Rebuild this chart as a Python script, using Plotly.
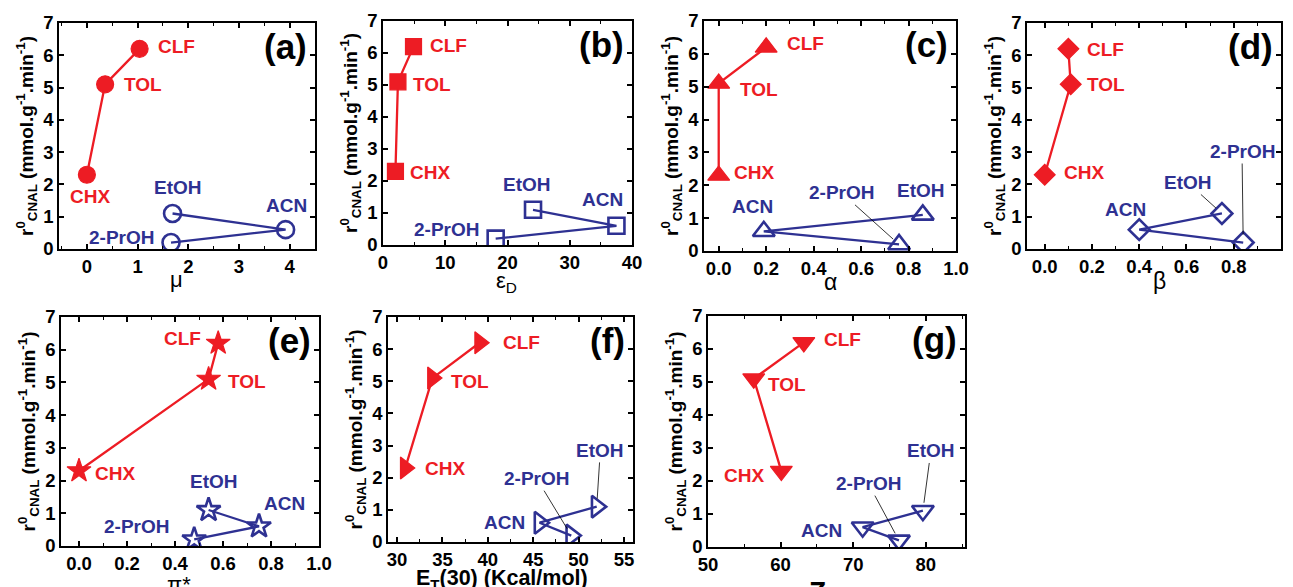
import plotly.graph_objects as go

# ---------------- data ----------------
solvents = ["CHX", "TOL", "CLF", "EtOH", "ACN", "2-PrOH"]
rate = [2.3, 5.1, 6.2, 1.1, 0.6, 0.2]          # r0_CNAL (mmol.g-1.min-1)
mu = [0.0, 0.36, 1.04, 1.69, 3.92, 1.66]
eps_d = [2.0, 2.4, 4.9, 24.1, 37.5, 18.1]
alpha = [0.0, 0.0, 0.2, 0.86, 0.19, 0.76]
beta = [0.0, 0.11, 0.10, 0.75, 0.40, 0.84]
pi_star = [0.0, 0.54, 0.58, 0.54, 0.75, 0.48]
et30 = [30.9, 33.9, 39.1, 52.0, 45.7, 49.2]
z_val = [60.1, 56.3, 63.2, 79.6, 71.3, 76.3]

RED = "#ED1C24"
BLUE = "#2E3192"
FONT = "Liberation Sans, Arial, sans-serif"
W, H = 1293, 587

# panel configuration (layout only); tpos = x-title centre in pixels
panels = [
    dict(tag="(a)", x=mu, title="μ", tbold=False, tsize=22, tpos=(176, 280), rng=[-0.55, 4.5], dtick=1, tick0=0, minor=0.5, fmt="",
         sym="circle", size=17, dom=(59, 315, 23, 249),
         labels={"CLF": (1.77, 6.28, False), "TOL": (1.10, 5.09, False), "CHX": (0.06, 1.63, False),
                 "EtOH": (1.80, 1.89, False), "ACN": (3.93, 1.34, False), "2-PrOH": (0.69, 0.37, False)}),
    dict(tag="(b)", x=eps_d, title="ε<sub>D</sub>", tbold=False, tsize=22, tpos=(506, 282), rng=[0, 40], dtick=10, tick0=0, minor=5, fmt="",
         sym="square", size=16, dom=(383, 632, 21, 245),
         labels={"CLF": (10.5, 6.22, False), "TOL": (7.9, 5.02, False), "CHX": (7.5, 2.27, False),
                 "EtOH": (23.1, 1.9, False), "ACN": (35.3, 1.43, False), "2-PrOH": (10.2, 0.49, False)}),
    dict(tag="(c)", x=alpha, title="α", tbold=False, tsize=23, tpos=(830, 282), rng=[-0.062, 1.0], dtick=0.2, tick0=0, minor=0.1, fmt=".1f",
         sym="triangle-up", size=19, dom=(704, 956, 21, 251),
         labels={"CLF": (0.366, 6.32, False), "TOL": (0.169, 4.92, False), "CHX": (0.149, 2.39, False),
                 "ACN": (0.142, 1.34, False), "2-PrOH": (0.518, 1.77, True), "EtOH": (0.852, 1.85, False)}),
    dict(tag="(d)", x=beta, title="β", tbold=False, tsize=23, tpos=(1159, 281), rng=[-0.075, 1.0], dtick=0.2, tick0=0, minor=0.1, fmt=".1f",
         sym="diamond", size=16, dom=(1027, 1281, 23, 249),
         labels={"CLF": (0.257, 6.19, False), "TOL": (0.26, 5.11, False), "CHX": (0.165, 2.38, False),
                 "ACN": (0.341, 1.22, False), "EtOH": (0.605, 2.06, True), "2-PrOH": (0.835, 3.02, True)}),
    dict(tag="(e)", x=pi_star, title="π*", tbold=False, tsize=22, tpos=(179, 584), rng=[-0.075, 1.0], dtick=0.2, tick0=0, minor=0.1, fmt=".1f",
         sym="star", size=18, dom=(61, 319, 317, 546),
         labels={"CLF": (0.432, 6.34, False), "TOL": (0.699, 5.03, False), "CHX": (0.15, 2.21, False),
                 "EtOH": (0.564, 1.98, False), "ACN": (0.858, 1.29, False), "2-PrOH": (0.24, 0.60, False)}),
    dict(tag="(f)", x=et30, title="E<sub>T</sub>(30) (Kcal/mol)", tbold=True, tsize=21.5, tpos=(502, 579), rng=[29, 56], dtick=5, tick0=30, minor=2.5, fmt="",
         sym="triangle-right", size=19, dom=(388, 633, 317, 542),
         labels={"CLF": (43.7, 6.22, False), "TOL": (38.0, 5.0, False), "CHX": (35.3, 2.3, False),
                 "ACN": (41.8, 0.62, False), "2-PrOH": (45.4, 1.97, True), "EtOH": (52.4, 2.85, True)}),
    dict(tag="(g)", x=z_val, title="Z", tbold=True, tsize=28, tpos=(817, 591), rng=[50, 85.4], dtick=10, tick0=50, minor=5, fmt="",
         sym="triangle-down", size=19, dom=(708, 965, 316, 547),
         labels={"CLF": (68.5, 6.29, False), "TOL": (60.9, 4.91, False), "CHX": (55.0, 2.17, False),
                 "ACN": (65.7, 0.51, False), "2-PrOH": (72.1, 1.92, True), "EtOH": (80.7, 2.91, True)}),
]

fig = go.Figure()
layout = dict(width=W, height=H, margin=dict(l=0, r=0, t=0, b=0, autoexpand=False),
              paper_bgcolor="white", plot_bgcolor="white", showlegend=False,
              font=dict(family=FONT, color="black"))
annotations = []

ytitle = "r<sup>0</sup><sub>CNAL</sub> (mmol.g<sup>-1</sup>.min<sup>-1</sup>)"

for i, p in enumerate(panels):
    n = "" if i == 0 else str(i + 1)
    xa, ya = "x" + n, "y" + n
    x0, x1, y0, y1 = p["dom"]
    xs = p["x"]
    # red series (CHX, TOL, CLF)
    fig.add_trace(go.Scatter(x=xs[0:3], y=rate[0:3], mode="lines+markers", xaxis=xa, yaxis=ya,
                             line=dict(color=RED, width=2.3),
                             marker=dict(symbol=p["sym"], size=p["size"], color=RED,
                                         line=dict(color=RED, width=1.2))))
    # blue series (EtOH, ACN, 2-PrOH)
    fig.add_trace(go.Scatter(x=xs[3:6], y=rate[3:6], mode="lines+markers", xaxis=xa, yaxis=ya,
                             line=dict(color=BLUE, width=2.3),
                             marker=dict(symbol=p["sym"] + "-open", size=p["size"], color=BLUE,
                                         line=dict(color=BLUE, width=2.6))))
    common = dict(showline=True, linewidth=1.5, linecolor="black", mirror="ticks",
                  ticks="inside", ticklen=5, tickwidth=1.5, tickcolor="black",
                  showgrid=False, zeroline=False, automargin=False,
                  tickfont=dict(family=FONT, size=18.5, color="black", weight="bold"))
    layout["xaxis" + n] = dict(common, domain=[x0 / W, x1 / W], range=p["rng"], dtick=p["dtick"],
                               tick0=p["tick0"], tickformat=p["fmt"], anchor=ya,
                               minor=dict(dtick=p["minor"], ticks="inside", ticklen=3, tickwidth=1.2,
                                          tickcolor="black"))
    layout["yaxis" + n] = dict(common, domain=[1 - y1 / H, 1 - y0 / H], range=[0, 7], dtick=1,
                               tick0=0, anchor=xa,
                               title=dict(text=ytitle, standoff=5,
                                          font=dict(family=FONT, size=19, color="black", weight="bold")))
    # x-axis title (as annotation so it may run off the page edge like the reference)
    tx_, ty_ = p["tpos"]
    annotations.append(dict(text=p["title"], xref="paper", yref="paper", x=tx_ / W, y=1 - ty_ / H,
                            xanchor="center", yanchor="middle", showarrow=False,
                            font=dict(family=FONT, size=p["tsize"], color="black",
                                      weight="bold" if p["tbold"] else "normal")))
    # panel tag
    annotations.append(dict(text=p["tag"], xref=xa + " domain", yref=ya + " domain", x=0.975, y=0.99,
                            xanchor="right", yanchor="top", showarrow=False,
                            font=dict(family=FONT, size=35, color="black", weight="bold")))
    # point labels
    for k, s in enumerate(solvents):
        tx, ty, arrow = p["labels"][s]
        col = RED if k < 3 else BLUE
        f = dict(family=FONT, size=19, color=col, weight="bold")
        if arrow:
            annotations.append(dict(text=s, x=xs[k], y=rate[k], ax=tx, ay=ty, axref=xa, ayref=ya,
                                    xref=xa, yref=ya, showarrow=True, arrowhead=0, arrowwidth=0.8,
                                    arrowcolor="black", standoff=8, font=f))
        else:
            annotations.append(dict(text=s, x=tx, y=ty, xref=xa, yref=ya, showarrow=False, font=f))

layout["annotations"] = annotations
fig.update_layout(**layout)
fig.write_html("out.html")
